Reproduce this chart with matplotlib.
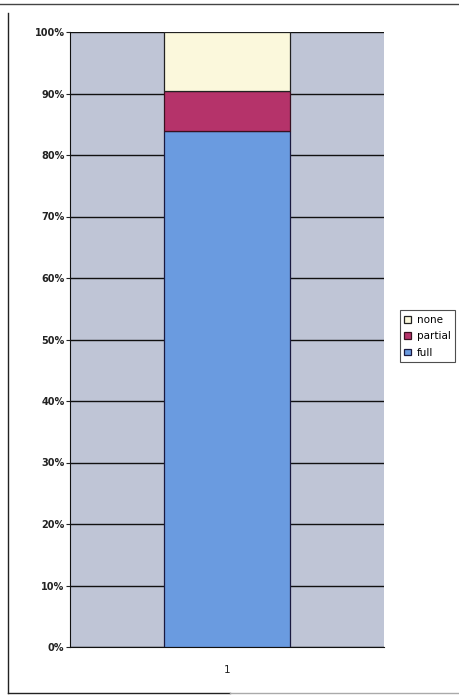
import matplotlib
matplotlib.use("Agg")
import matplotlib.pyplot as plt
from matplotlib.lines import Line2D
from matplotlib.ticker import PercentFormatter

# data (percent of total)
categories = ["1"]
full = [83.9]
partial = [6.5]
none_ = [9.6]
series_names = ["none", "partial", "full"]
colors = {"full": "#6a9be0", "partial": "#b5336a", "none": "#fbf8dc"}

W, H = 459, 695
fig = plt.figure(figsize=(W / 100, H / 100), dpi=100)
fig.patch.set_facecolor("white")
# partial frame of the scanned chart object (top, left, bottom; no right edge)
frame = [((0, W), (H - 4, H - 4), "#444444"),
         ((8, 8), (2, H - 13), "#222222"),
         ((8, 230), (2, 2), "#222222"),
         ((230, W), (2, 2), "#aaaaaa")]
for xs, ys, c in frame:
    fig.add_artist(Line2D([v / W for v in xs], [v / H for v in ys], transform=fig.transFigure,
                          color=c, lw=1.0))

ax = fig.add_axes([70 / W, 48 / H, 314 / W, 615 / H])
ax.set_facecolor("#bfc5d6")

x = list(range(1, len(categories) + 1))
w = 0.4
b1 = ax.bar(x, full, w, color=colors["full"], edgecolor="#1a1a40", lw=0.9, label="full", zorder=3)
b2 = ax.bar(x, partial, w, bottom=full, color=colors["partial"], edgecolor="#3a1020", lw=0.9,
            label="partial", zorder=3)
bottom2 = [a + b for a, b in zip(full, partial)]
b3 = ax.bar(x, none_, w, bottom=bottom2, color=colors["none"], edgecolor="#222222", lw=0.9,
            label="none", zorder=3)

ax.set_xlim(0.5, len(categories) + 0.5)
ax.set_ylim(0, 100)
ax.set_yticks(range(0, 101, 10))
ax.yaxis.set_major_formatter(PercentFormatter(decimals=0))
ax.set_xticks(x)
ax.set_xticklabels(categories)
ax.grid(axis="y", color="#111111", lw=1.0, zorder=1)
ax.tick_params(axis="y", length=3, width=0.8, labelsize=7, pad=1, colors="#222222")
ax.tick_params(axis="x", length=0, labelsize=7.5, pad=13, colors="#222222")
for t in ax.get_yticklabels():
    t.set_fontweight("bold")

for s in ["top", "right"]:
    ax.spines[s].set_visible(False)
ax.spines["left"].set_color("#111111")
ax.spines["bottom"].set_color("#111111")

handles = [b3, b2, b1]
leg = ax.legend(handles, series_names, loc="center left", bbox_to_anchor=(1.05, 0.505),
                fontsize=7.5, frameon=True, fancybox=False, edgecolor="#222222",
                handlelength=0.6, handleheight=0.6, handletextpad=0.6,
                labelspacing=0.6, borderpad=0.45, borderaxespad=0)
leg.get_frame().set_linewidth(0.8)

fig.savefig("out.png", dpi=100)
